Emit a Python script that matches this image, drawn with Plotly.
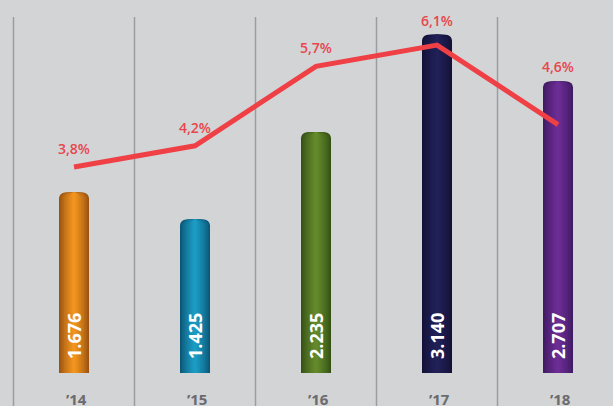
import plotly.graph_objects as go

# Data
years = ["’14", "’15", "’16", "’17", "’18"]
values = [1676, 1425, 2235, 3140, 2707]
growth = [3.8, 4.2, 5.7, 6.1, 4.6]

# Bar colours: dark edge and light centre of each cylinder
edge_colors = ["#9c5410", "#0b5878", "#365316", "#141238", "#411b63"]
center_colors = ["#f2951f", "#1c9cc4", "#64892b", "#212057", "#6c2d94"]

BG = "#d3d4d6"
LINE_RED = "#ef4046"
LABEL_RED = "#e8464c"
GRID = "#9c9da0"
BAR_W = 0.248
LAYERS = 9

Y_RANGE = [-306, 3463]
Y2_RANGE = [-0.709, 6.951]

x = list(range(len(years)))


def hex_to_rgb(h):
    h = h.lstrip("#")
    return tuple(int(h[i:i + 2], 16) for i in (0, 2, 4))


def mix(c1, c2, t):
    a, b = hex_to_rgb(c1), hex_to_rgb(c2)
    return "rgb({},{},{})".format(*[round(a[i] + (b[i] - a[i]) * t) for i in range(3)])


def frac(v, rng):
    return (v - rng[0]) / (rng[1] - rng[0])


fig = go.Figure()

# Cylinder shading: stacked overlay bars, narrower and lighter towards the centre
for k in range(LAYERS):
    f = 1 - k / LAYERS
    t = (k / (LAYERS - 1)) ** 0.8
    fig.add_trace(go.Bar(
        x=x, y=values,
        width=BAR_W * f,
        marker=dict(color=[mix(e, c, t) for e, c in zip(edge_colors, center_colors)],
                    line=dict(width=0), cornerradius=6),
        hoverinfo="skip", showlegend=False,
    ))

# Growth line on the secondary axis
fig.add_trace(go.Scatter(
    x=x, y=growth, yaxis="y2", mode="lines",
    line=dict(color=LINE_RED, width=5),
    hoverinfo="skip", showlegend=False,
))

annotations = []
for i, (v, g, yr) in enumerate(zip(values, growth, years)):
    # value inside bar, rotated
    annotations.append(dict(
        x=i, y=0, xref="x", yref="y", text="{:,}".format(v).replace(",", "."),
        textangle=-90, showarrow=False, xanchor="center", yanchor="bottom", yshift=12,
        font=dict(family="Open Sans", size=18, color="white", weight="bold"),
    ))
    # growth percentage above whichever is higher: line point or bar top
    f_bar, f_line = frac(v, Y_RANGE), frac(g, Y2_RANGE)
    annotations.append(dict(
        x=i, y=max(f_bar, f_line), xref="x", yref="paper",
        text=("%.1f" % g).replace(".", ",") + "%",
        showarrow=False, xanchor="center", yanchor="bottom",
        yshift=3 if f_bar > f_line else 7,
        font=dict(family="Open Sans", size=14, color=LABEL_RED, weight=600),
    ))
    # year label
    annotations.append(dict(
        x=i, y=0, xref="x", yref="paper", text=yr, xshift=2,
        showarrow=False, xanchor="center", yanchor="middle", yshift=7,
        font=dict(family="Open Sans", size=15, color="#6a6b6e", weight="bold"),
    ))

# vertical separators between categories
shapes = [dict(type="line", xref="x", yref="paper", x0=i - 0.5, x1=i - 0.5,
               y0=0, y1=0.958, line=dict(color=GRID, width=1.5), layer="below")
          for i in x]

fig.update_layout(
    width=613, height=406,
    margin=dict(l=0, r=0, t=0, b=0),
    paper_bgcolor=BG, plot_bgcolor=BG,
    barmode="overlay",
    xaxis=dict(range=[-0.6116, 4.4545], showgrid=False, zeroline=False,
               showticklabels=False, fixedrange=True),
    yaxis=dict(range=Y_RANGE, showgrid=False, zeroline=False,
               showticklabels=False, fixedrange=True),
    yaxis2=dict(range=Y2_RANGE, overlaying="y", showgrid=False,
                zeroline=False, showticklabels=False, fixedrange=True),
    annotations=annotations,
    shapes=shapes,
)

fig.write_html("out.html", config={"displayModeBar": False})
